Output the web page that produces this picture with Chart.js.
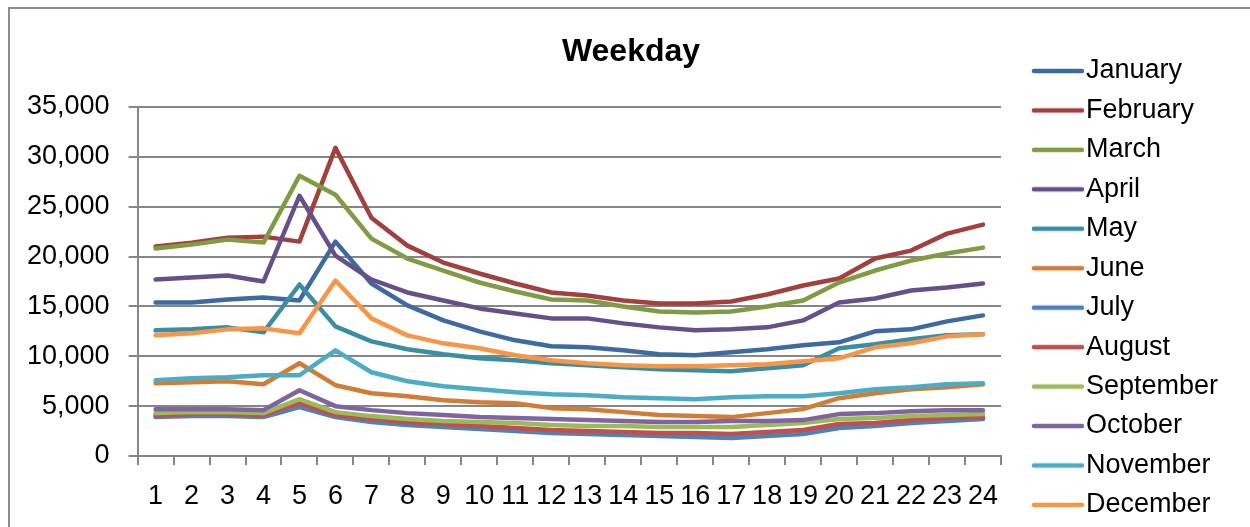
<!DOCTYPE html>
<html>
<head>
<meta charset="utf-8">
<script src="https://cdn.jsdelivr.net/npm/chart.js@4"></script>
<style>
  body { margin: 0; background: #fff; overflow: hidden; }
  #wrap { position: relative; width: 1250px; height: 527px; overflow: hidden; }
  #frame { position: absolute; left: 8px; top: 7px; width: 1400px; height: 700px; border: 2px solid #8c8c8c; }
  canvas { position: absolute; left: 0; top: 0; }
</style>
</head>
<body>
<div id="wrap">
  <div id="frame"></div>
  <canvas id="grafico" width="1250" height="527"></canvas>
</div>
<script>
// horas do dia
const horas = ['1','2','3','4','5','6','7','8','9','10','11','12','13','14','15','16','17','18','19','20','21','22','23','24'];

const meses = ['January','February','March','April','May','June','July','August','September','October','November','December'];

const cores = ['#3c6aa1','#a2403d','#7f9c44','#66508a','#3a8ea4','#d07d35',
               '#4f81bd','#c0504d','#9bbb59','#8064a2','#4bacc6','#f79646'];

const january   = [15400,15400,15700,15900,15600,21500,17300,15100,13600,12500,11600,11000,10900,10600,10200,10100,10400,10700,11100,11400,12500,12700,13500,14100];
const february  = [21000,21400,21900,22000,21500,30900,23900,21100,19400,18300,17300,16400,16100,15600,15300,15300,15500,16200,17100,17800,19800,20600,22300,23200];
const march     = [20800,21200,21700,21400,28100,26200,21800,19800,18600,17400,16500,15700,15600,15000,14500,14400,14500,15000,15600,17400,18600,19600,20300,20900];
const april     = [17700,17900,18100,17500,26100,20100,17700,16400,15600,14800,14300,13800,13800,13300,12900,12600,12700,12900,13600,15400,15800,16600,16900,17300];
const may       = [12600,12700,12900,12400,17200,13000,11500,10700,10200,9800,9600,9300,9100,8900,8700,8600,8500,8800,9100,10800,11200,11700,12100,12200];
const june      = [7300,7400,7500,7200,9300,7100,6300,6000,5600,5400,5300,4800,4700,4400,4100,4000,3900,4300,4700,5800,6300,6700,6900,7200];
const july      = [3900,4000,4000,3900,4900,3900,3400,3100,2900,2700,2500,2300,2200,2100,2000,1900,1800,2000,2200,2800,3000,3300,3500,3700];
const august    = [4100,4200,4200,4100,5300,4100,3700,3400,3200,3000,2800,2600,2500,2400,2300,2300,2200,2400,2600,3200,3300,3600,3800,3900];
const september = [4300,4400,4400,4300,5700,4400,4000,3700,3500,3400,3300,3100,3000,3000,2900,2900,2900,3100,3300,3700,3800,4000,4100,4200];
const october   = [4700,4700,4700,4600,6600,5000,4600,4300,4100,3900,3800,3700,3600,3500,3400,3400,3500,3500,3600,4200,4300,4500,4600,4600];
const november  = [7600,7800,7900,8100,8100,10600,8400,7500,7000,6700,6400,6200,6100,5900,5800,5700,5900,6000,6000,6300,6700,6900,7200,7300];
const december  = [12100,12300,12700,12800,12300,17600,13800,12100,11300,10800,10100,9600,9300,9100,9000,9000,9100,9200,9500,9800,10900,11300,12000,12200];

const valores = [january, february, march, april, may, june, july, august, september, october, november, december];

const fonte = 'Liberation Sans, Arial, sans-serif';
const cinza = '#868686';

// amostra da legenda: linha curta encostada no texto, como no Excel
function amostraLegenda(cor) {
  const c = document.createElement('canvas');
  c.width = 82;
  c.height = 8;
  const ctx = c.getContext('2d');
  ctx.strokeStyle = cor;
  ctx.lineWidth = 4.5;
  ctx.lineCap = 'round';
  ctx.beginPath();
  ctx.moveTo(32, 4);
  ctx.lineTo(80, 4);
  ctx.stroke();
  return c;
}

// o titulo do Excel fica um pouco mais para a direita
const deslocaTitulo = {
  id: 'deslocaTitulo',
  afterLayout(chart) {
    const t = chart.titleBlock;
    if (t) { t.left += 13; t.right += 13; }
  }
};

let datasets = [];
for (let i = 0; i < meses.length; i++) {
  datasets.push({
    label: meses[i],
    data: valores[i],
    borderColor: cores[i],
    backgroundColor: cores[i],
    borderWidth: 4.5,
    borderCapStyle: 'round',
    borderJoinStyle: 'round',
    pointRadius: 0,
    pointStyle: amostraLegenda(cores[i]),
    tension: 0,
    fill: false,
    order: meses.length - i // Excel desenha o ultimo por cima
  });
}

const config = {
  type: 'line',
  data: { labels: horas, datasets: datasets },
  plugins: [deslocaTitulo],
  options: {
    responsive: false,
    animation: false,
    layout: { padding: { left: 8, right: 22, top: 45, bottom: -5 } },
    plugins: {
      title: {
        display: true,
        text: 'Weekday',
        color: '#000',
        font: { family: fonte, size: 32, weight: 'bold' },
        padding: { top: -12, bottom: 35.6 }
      },
      legend: {
        position: 'right',
        align: 'start',
        labels: {
          color: '#000',
          font: { family: fonte, size: 27 },
          usePointStyle: true,
          pointStyleWidth: 59,
          padding: 12.45,
          sort: (a, b) => a.datasetIndex - b.datasetIndex
        }
      },
      tooltip: { enabled: false }
    },
    scales: {
      x: {
        offset: true,
        grid: { display: true, offset: true, drawOnChartArea: false, color: cinza, lineWidth: 2, tickLength: 9 },
        border: { color: cinza, width: 2 },
        ticks: { color: '#000', font: { family: fonte, size: 27 }, padding: 15, maxRotation: 0, autoSkip: false },
        afterFit: (s) => { s.height = 76; }
      },
      y: {
        min: 0,
        max: 35000,
        grid: { color: cinza, lineWidth: 2, tickLength: 9 },
        border: { color: cinza, width: 2 },
        ticks: {
          stepSize: 5000,
          color: '#000',
          font: { family: fonte, size: 27 },
          padding: 19,
          callback: (v) => v.toLocaleString('en-US')
        }
      }
    }
  }
};

let grafico = new Chart(document.getElementById('grafico'), config);
</script>
</body>
</html>
